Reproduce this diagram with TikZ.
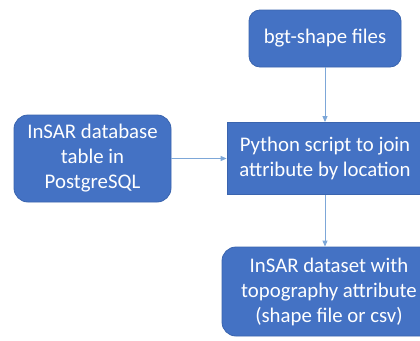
\documentclass[tikz,border=0pt]{standalone}
\usepackage{fontspec}
\setmainfont{Carlito}
\usetikzlibrary{arrows.meta}
\definecolor{boxfill}{HTML}{4472C4}
\definecolor{boxline}{HTML}{3A64AE}
\definecolor{arrowc}{HTML}{7DA7D8}
\tikzset{
  blk/.style={draw=boxline, line width=0.8pt, fill=boxfill, text=white,
    align=center, inner sep=0pt, font=\fontsize{20.8}{25}\selectfont},
  rblk/.style={blk, rounded corners=11pt},
  conn/.style={draw=arrowc, line width=0.9pt, -{Triangle[length=6pt,width=5pt]}}
}
\begin{document}
\begin{tikzpicture}[x=1pt,y=-1pt]
\useasboundingbox (0,0) rectangle (420,340);
\clip (0,0) rectangle (420,340);
\node[rblk, minimum width=152pt, minimum height=57pt] (bgt) at (325,38.5) {bgt-shape files};
\node[rblk, minimum width=157pt, minimum height=87pt, rounded corners=14pt] (db) at (92.5,158.5) {InSAR database\\table in\\PostgreSQL};
\node[blk, minimum width=196pt, minimum height=72pt] (py) at (325,158.5) {Python script to join\\attribute by location};
\node[rblk, minimum width=214pt, minimum height=89pt, rounded corners=14pt] (out) at (329,291.5) {InSAR dataset with\\topography attribute\\(shape file or csv)};
\draw[conn] (bgt.south) -- (py.north);
\draw[conn] (db.east) -- (py.west);
\draw[conn] (py.south) -- (py.south |- out.north);
\end{tikzpicture}
\end{document}
